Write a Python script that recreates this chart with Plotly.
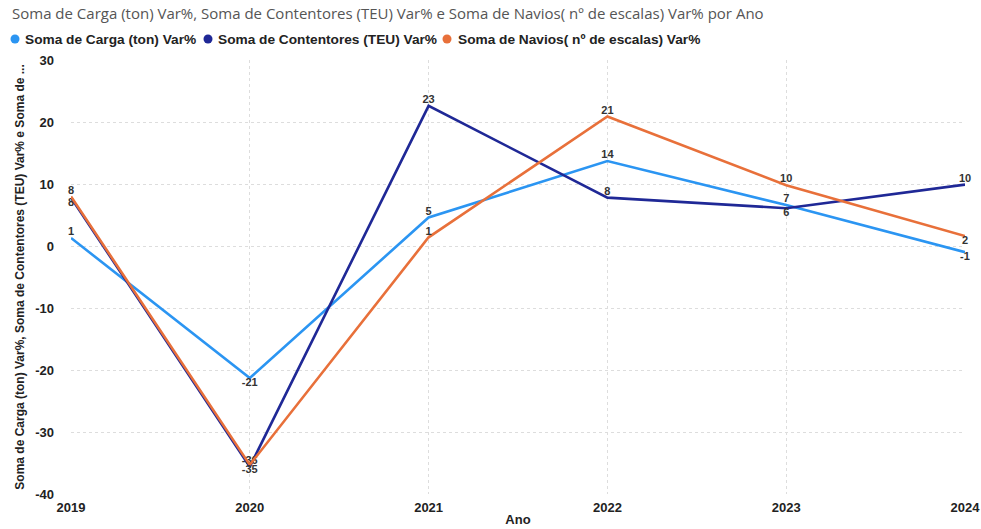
import plotly.graph_objects as go

anos = [2019, 2020, 2021, 2022, 2023, 2024]
carga = [1.3, -21.3, 4.6, 13.7, 6.6, -1.0]
teu = [7.8, -35.6, 22.6, 7.8, 6.1, 9.9]
navios = [8.0, -35.3, 1.4, 20.9, 9.8, 1.6]

carga_lbl = ["1", "-21", "5", "14", "7", "-1"]
teu_lbl = ["8", "-36", "23", "8", "6", "10"]
navios_lbl = ["8", "-35", "1", "21", "10", "2"]

y_ticks = [-40, -30, -20, -10, 0, 10, 20, 30]
y_ticktext = ["-40", "-30", "-20", "-10", "0", "10", "20", "30"]

carga_pos = ["top center", "bottom center", "top center", "top center", "top center", "bottom center"]
teu_pos = ["bottom center", "top center", "top center", "top center", "bottom center", "top center"]
navios_pos = ["top center", "bottom center", "top center", "top center", "top center", "bottom center"]

names = ["Soma de Carga (ton) Var%", "Soma de Contentores (TEU) Var%", "Soma de Navios( nº de escalas) Var%"]
colors = ["#2B95F2", "#1F2896", "#E8703A"]

L, R, T, B, W, H = 71, 16, 60, 35, 981, 529
PW = W - L - R

fig = go.Figure()
for name, ys, lbl, pos, c in [
    (names[0], carga, carga_lbl, carga_pos, colors[0]),
    (names[1], teu, teu_lbl, teu_pos, colors[1]),
    (names[2], navios, navios_lbl, navios_pos, colors[2]),
]:
    fig.add_trace(go.Scatter(
        x=anos, y=ys, name=name, mode="lines+text",
        text=lbl, textposition=pos,
        textfont=dict(family="Liberation Sans", size=11, color="#333333", weight="bold"),
        line=dict(color=c, width=2.6),
        cliponaxis=False, showlegend=False,
    ))

# custom legend (circle marker + bold text), laid out left to right
legend_marker_px = [15, 208, 447]
legend_text_px = [23, 216, 456]
legend_y_px = 39
for name, c, mx, tx in zip(names, colors, legend_marker_px, legend_text_px):
    fig.add_shape(
        type="circle", xref="paper", yref="paper",
        xsizemode="pixel", ysizemode="pixel",
        xanchor=(mx - L) / PW, yanchor=1 + (T - legend_y_px) / (H - T - B),
        x0=-4.5, x1=4.5, y0=-4.5, y1=4.5,
        fillcolor=c, line=dict(width=0),
    )
    fig.add_annotation(
        text=name, xref="paper", yref="paper",
        x=(tx - L) / PW, y=1 + (T - legend_y_px) / (H - T - B),
        xanchor="left", yanchor="middle", showarrow=False,
        font=dict(family="Liberation Sans", size=13.7, color="#222222", weight="bold"),
    )

fig.update_layout(
    width=W, height=H,
    paper_bgcolor="white", plot_bgcolor="white",
    margin=dict(l=L, r=R, t=T, b=B, autoexpand=False),
    title=dict(
        text="Soma de Carga (ton) Var%, Soma de Contentores (TEU) Var% e Soma de Navios( nº de escalas) Var% por Ano",
        x=12 / W, xanchor="left", y=1 - 14 / H, yanchor="middle",
        font=dict(family="Open Sans", size=15, color="#555555"),
    ),
    showlegend=False,
    xaxis=dict(
        range=[2019, 2024], tickvals=anos, ticktext=[str(a) for a in anos],
        showgrid=True, gridcolor="#DDDDDD", griddash="dot", zeroline=False,
        tickfont=dict(family="Liberation Sans", size=13, color="#222222", weight="bold"),
        title=dict(text="Ano", font=dict(family="Liberation Sans", size=13, color="#222222", weight="bold"), standoff=0),
        showline=False, ticks="", ticklabelstandoff=4,
    ),
    yaxis=dict(
        range=[-40, 30], tickvals=y_ticks, ticktext=y_ticktext,
        showgrid=True, gridcolor="#DDDDDD", griddash="dot", zeroline=False,
        tickfont=dict(family="Liberation Sans", size=13, color="#222222", weight="bold"),
        title=dict(text="Soma de Carga (ton) Var%, Soma de Contentores (TEU) Var% e Soma de ...",
                   font=dict(family="Liberation Sans", size=12, color="#222222", weight="bold"), standoff=8),
        ticks="", ticklabelstandoff=16,
    ),
)

fig.write_html("out.html")
